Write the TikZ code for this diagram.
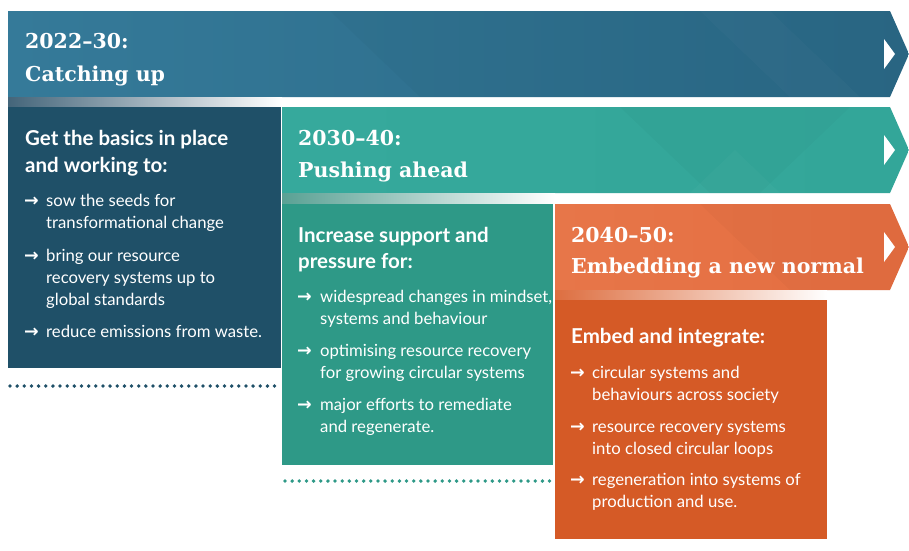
\documentclass[tikz,border=0pt]{standalone}
\usepackage{fontspec}
\setmainfont{Lato}
\newfontfamily\headserif{DejaVu Serif}
\newfontfamily\arrowfont{DejaVu Sans}
\definecolor{bannerAl}{HTML}{357A99}
\definecolor{bannerAd}{HTML}{2A6886}
\definecolor{boxA}{HTML}{1F5068}
\definecolor{bannerBl}{HTML}{36A99C}
\definecolor{bannerBd}{HTML}{33A699}
\definecolor{boxB}{HTML}{2E9987}
\definecolor{bannerCl}{HTML}{E77649}
\definecolor{bannerCd}{HTML}{E46D40}
\definecolor{boxC}{HTML}{D55A26}
\definecolor{stripA}{HTML}{44657A}
\definecolor{stripB}{HTML}{5AA194}
\definecolor{stripC}{HTML}{DD6E40}
\tikzset{
  headtxt/.style={anchor=base west, inner sep=0pt, text=white, font=\fontsize{20.5}{24}\selectfont\bfseries},
  bodytxt/.style={anchor=base west, inner sep=0pt, text=white, font=\fontsize{16.7}{20}\selectfont},
  arrowtxt/.style={anchor=base west, inner sep=0pt, text=white, font=\arrowfont\bfseries\fontsize{17.5}{20}\selectfont},
  bannertxt/.style={anchor=base west, inner sep=0pt, text=white, font=\headserif\bfseries\fontsize{20.5}{24}\selectfont},
  dotline/.style={line width=3.8pt, line cap=round, dash pattern=on 0pt off 7.15pt},
  tri/.style={fill=white, draw=none},
}
\begin{document}
\begin{tikzpicture}[x=1pt,y=-1pt]
\useasboundingbox (0,0) rectangle (909,550);
\fill[white] (0,0) rectangle (909,550);

% ---------- banner 1 ----------
\begin{scope}
\path[clip] (8,11) -- (890,11) -- (909,54) -- (890,97) -- (8,97) -- cycle;
\shade[left color=bannerAl, right color=bannerAd] (8,11) rectangle (909,97);
\fill[black, opacity=0.025] (330,11) -- (420,97) -- (909,97) -- (909,11) -- cycle;
\fill[white, opacity=0.02] (700,11) -- (790,97) -- (860,97) -- (770,11) -- cycle;
\end{scope}
\fill[tri] (884,39) -- (895,54) -- (884,69) -- cycle;
\node[bannertxt] (yearA) at (25,48) {2022–30:};
\node[bannertxt] (nameA) at (25,81) {Catching up};

% strip 1 and box 1
\shade[left color=stripA, right color=white] (8,97) rectangle (282,107);
\fill[boxA] (8,107) rectangle (281,368);
\node[headtxt] (h1a) at (25,145) {Get the basics in place};
\node[headtxt] (h1b) at (25,172) {and working to:};
\node[arrowtxt] (a1a) at (24,206) {→};
\node[bodytxt] (t1a) at (46,206) {sow the seeds for};
\node[bodytxt] (t1b) at (46,228) {transformational change};
\node[arrowtxt] (a1b) at (24,261) {→};
\node[bodytxt] (t1c) at (46,261) {bring our resource};
\node[bodytxt] (t1d) at (46,283) {recovery systems up to};
\node[bodytxt] (t1e) at (46,305) {global standards};
\node[arrowtxt] (a1c) at (24,337) {→};
\node[bodytxt] (t1f) at (46,337) {reduce emissions from waste.};
\coordinate (dA1) at (10,386);
\coordinate (dA2) at (276,386);
\draw[dotline, boxA] (dA1) -- (dA2);

% ---------- banner 2 ----------
\begin{scope}
\path[clip] (282,107) -- (890,107) -- (909,150) -- (890,193) -- (282,193) -- cycle;
\shade[left color=bannerBl, right color=bannerBd] (282,107) rectangle (909,193);
\fill[black, opacity=0.02] (620,107) -- (710,193) -- (760,193) -- (850,107) -- cycle;
\fill[white, opacity=0.025] (735,150) -- (690,193) -- (780,193) -- cycle;
\end{scope}
\fill[tri] (884,135) -- (895,150) -- (884,165) -- cycle;
\node[bannertxt] (yearB) at (298,145) {2030–40:};
\node[bannertxt] (nameB) at (298,177) {Pushing ahead};

% strip 2 and box 2
\shade[left color=stripB, right color=white] (282,193) rectangle (555,204);
\fill[boxB] (282,204) rectangle (553,465);
\node[headtxt] (h2a) at (298,242) {Increase support and};
\node[headtxt] (h2b) at (298,268) {pressure for:};
\node[arrowtxt] (a2a) at (297,302) {→};
\node[bodytxt] (t2a) at (320,302) {widespread changes in mindset,};
\node[bodytxt] (t2b) at (320,324) {systems and behaviour};
\node[arrowtxt] (a2b) at (297,356) {→};
\node[bodytxt] (t2c) at (320,356) {optimising resource recovery};
\node[bodytxt] (t2d) at (320,378) {for growing circular systems};
\node[arrowtxt] (a2c) at (297,410) {→};
\node[bodytxt] (t2e) at (320,410) {major efforts to remediate};
\node[bodytxt] (t2f) at (320,432) {and regenerate.};
\coordinate (dB1) at (285,481);
\coordinate (dB2) at (551,481);
\draw[dotline, boxB] (dB1) -- (dB2);

% ---------- banner 3 ----------
\begin{scope}
\path[clip] (555,204) -- (890,204) -- (909,247) -- (890,290) -- (555,290) -- cycle;
\shade[left color=bannerCl, right color=bannerCd] (555,204) rectangle (909,290);
\fill[black, opacity=0.02] (700,204) -- (790,290) -- (909,290) -- (909,204) -- cycle;
\end{scope}
\fill[tri] (884,232) -- (895,247) -- (884,262) -- cycle;
\node[bannertxt] (yearC) at (571,242) {2040–50:};
\node[bannertxt] (nameC) at (571,273) {Embedding a new normal};

% strip 3 and box 3
\shade[left color=stripC, right color=white] (555,290) rectangle (827,300);
\fill[boxC] (555,300) rectangle (827,539);
\node[headtxt] (h3a) at (571,343) {Embed and integrate:};
\node[arrowtxt] (a3a) at (570,378) {→};
\node[bodytxt] (t3a) at (592,378) {circular systems and};
\node[bodytxt] (t3b) at (592,400) {behaviours across society};
\node[arrowtxt] (a3b) at (570,432) {→};
\node[bodytxt] (t3c) at (592,432) {resource recovery systems};
\node[bodytxt] (t3d) at (592,454) {into closed circular loops};
\node[arrowtxt] (a3c) at (570,485) {→};
\node[bodytxt] (t3e) at (592,485) {regeneration into systems of};
\node[bodytxt] (t3f) at (592,507) {production and use.};
\end{tikzpicture}
\end{document}
